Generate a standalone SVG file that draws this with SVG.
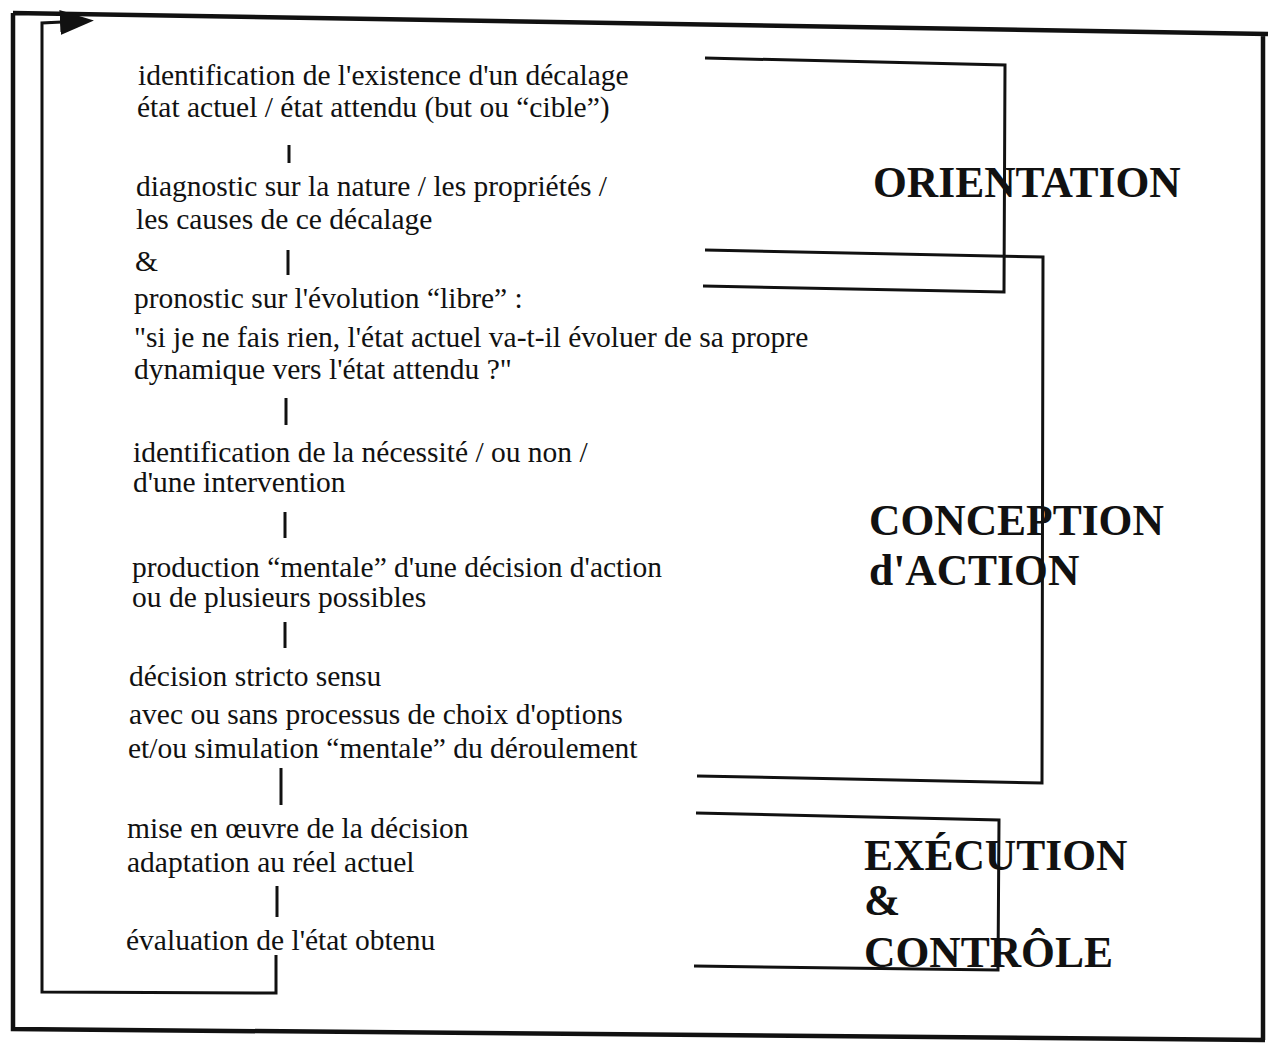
<svg xmlns="http://www.w3.org/2000/svg" width="1272" height="1053" viewBox="0 0 1272 1053">
<defs>
<style>
.t{font-family:"Liberation Serif","Times New Roman",serif;font-size:29.5px;fill:#111}
.h{font-family:"Liberation Serif","Times New Roman",serif;font-size:43.5px;font-weight:bold;fill:#111}
.ln{fill:none;stroke:#111;stroke-width:3;stroke-linejoin:miter}
.bd{fill:none;stroke:#111;stroke-width:4.5}
</style>
<marker id="ah" markerUnits="userSpaceOnUse" markerWidth="40" markerHeight="30" refX="2" refY="12" orient="auto">
<path d="M0,0 L34,12 L0,25 Z" fill="#111"/>
</marker>
</defs>
<rect width="1272" height="1053" fill="#fff"/>
<path class="bd" d="M13,13 L1268,34 M1263,34 L1263,1040 M13,13 L13,1029 L1265,1040"/>

<g id="connectors">
<path class="ln" d="M289,145 L289,163"/>
<path class="ln" d="M288,250 L288,275"/>
<path class="ln" d="M286,398 L286,425"/>
<path class="ln" d="M285,512 L285,538"/>
<path class="ln" d="M285,622 L285,648"/>
<path class="ln" d="M281,768 L281,805"/>
<path class="ln" d="M277,886 L277,917"/>
<path class="ln" d="M276,955 L276,993 L42,992 L42,23 L62,22" marker-end="url(#ah)"/>
</g>

<g id="n1"><text class="t" x="138" y="85">identification de l'existence d'un décalage</text>
<text class="t" x="137" y="117">état actuel / état attendu (but ou “cible”)</text></g>
<g id="n2"><text class="t" x="136" y="196">diagnostic sur la nature / les propriétés /</text>
<text class="t" x="136" y="229">les causes de ce décalage</text>
<text class="t" x="135" y="271">&amp;</text></g>
<g id="n3"><text class="t" x="134" y="308">pronostic sur l'évolution “libre” :</text>
<text class="t" x="134" y="347">"si je ne fais rien, l'état actuel va-t-il évoluer de sa propre</text>
<text class="t" x="134" y="379">dynamique vers l'état attendu ?"</text></g>
<g id="n4"><text class="t" x="133" y="462">identification de la nécessité / ou non /</text>
<text class="t" x="133" y="492">d'une intervention</text></g>
<g id="n5"><text class="t" x="132" y="577">production “mentale” d'une décision d'action</text>
<text class="t" x="132" y="607">ou de plusieurs possibles</text></g>
<g id="n6"><text class="t" x="129" y="686">décision stricto sensu</text>
<text class="t" x="129" y="724">avec ou sans processus de choix d'options</text>
<text class="t" x="128" y="758">et/ou simulation “mentale” du déroulement</text></g>
<g id="n7"><text class="t" x="127" y="838">mise en œuvre de la décision</text>
<text class="t" x="127" y="872">adaptation au réel actuel</text></g>
<g id="n8"><text class="t" x="126" y="950">évaluation de l'état obtenu</text></g>

<g id="orientation">
<path class="ln" d="M705,58 L1005,65 L1004,292 L703,286"/>
<text class="h" x="873" y="197">ORIENTATION</text>
</g>
<g id="conception">
<path class="ln" d="M705,250 L1043,257 L1042,783 L697,776"/>
<text class="h" x="869" y="535">CONCEPTION</text>
<text class="h" x="869" y="585">d'ACTION</text>
</g>
<g id="execution">
<path class="ln" d="M696,813 L999,820 L998,970 L694,966"/>
<text class="h" x="864" y="870">EXÉCUTION</text>
<text class="h" x="864" y="915">&amp;</text>
<text class="h" x="864" y="967">CONTRÔLE</text>
</g>
</svg>
